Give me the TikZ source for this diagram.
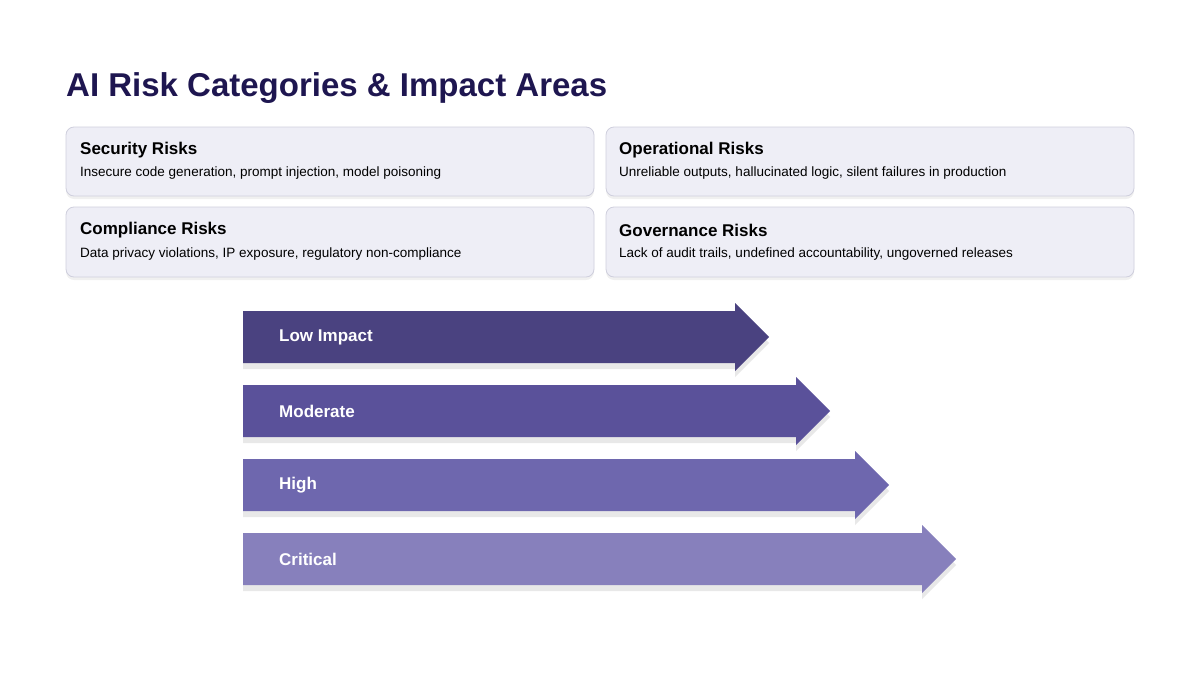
\documentclass[tikz,border=0pt]{standalone}
\usepackage{fontspec}
\setmainfont{Liberation Sans}
\usetikzlibrary{shadows}
\definecolor{titleink}{HTML}{1E1650}
\definecolor{cardfill}{HTML}{EEEEF6}
\definecolor{cardline}{HTML}{CFCFDD}
\definecolor{lowc}{HTML}{4A4280}
\definecolor{modc}{HTML}{5A519A}
\definecolor{highc}{HTML}{6E67AE}
\definecolor{critc}{HTML}{8780BC}

\begin{document}
\begin{tikzpicture}
	[x=1pt,y=-1pt,
	 card/.style={draw=cardline, fill=cardfill, rounded corners=8pt, line width=0.8pt,
		drop shadow={shadow xshift=0pt, shadow yshift=-3pt, opacity=0.12, fill=gray}},
	 cardhead/.style={anchor=west, inner sep=0pt, font=\fontsize{17}{20}\selectfont\bfseries},
	 carddesc/.style={anchor=west, inner sep=0pt, font=\fontsize{13.5}{16}\selectfont},
	 band/.style={drop shadow={shadow xshift=0pt, shadow yshift=-6pt, opacity=0.18, fill=gray}},
	 bandtext/.style={anchor=west, inner sep=0pt, text=white, font=\fontsize{17}{20}\selectfont\bfseries}]

	\useasboundingbox (0,0) rectangle (1200,675);

	%Title
	\node[anchor=west, inner sep=0pt, text=titleink, font=\fontsize{33}{40}\selectfont\bfseries]
		(title) at (66,88) {AI Risk Categories \& Impact Areas};

	%Cards
	\path[card] (66,127) rectangle (594,196);
	\path[card] (606,127) rectangle (1134,196);
	\path[card] (66,207) rectangle (594,277);
	\path[card] (606,207) rectangle (1134,277);

	\node[cardhead] (sec) at (80,150) {Security Risks};
	\node[carddesc] (secd) at (80,173) {Insecure code generation, prompt injection, model poisoning};
	\node[cardhead] (ops) at (619,150) {Operational Risks};
	\node[carddesc] (opsd) at (619,173) {Unreliable outputs, hallucinated logic, silent failures in production};
	\node[cardhead] (comp) at (80,230) {Compliance Risks};
	\node[carddesc] (compd) at (80,254) {Data privacy violations, IP exposure, regulatory non-compliance};
	\node[cardhead] (gov) at (619,230) {Governance Risks};
	\node[carddesc] (govd) at (619,254) {Lack of audit trails, undefined accountability, ungoverned releases};

	%Impact arrows
	\foreach \yc/\xh/\col/\nm/\txt in {337/735/lowc/low/Low Impact, 411/796/modc/moderate/Moderate,
		485/855/highc/high/High, 559/922/critc/critical/Critical}
	{
		\path[band, fill=\col] (243,\yc-26) -- (\xh,\yc-26) -- (\xh,\yc-34) -- (\xh+34,\yc)
			-- (\xh,\yc+34) -- (\xh,\yc+26) -- (243,\yc+26) -- cycle;
		\node[bandtext] (\nm) at (279,\yc) {\txt};
	}
\end{tikzpicture}
\end{document}
